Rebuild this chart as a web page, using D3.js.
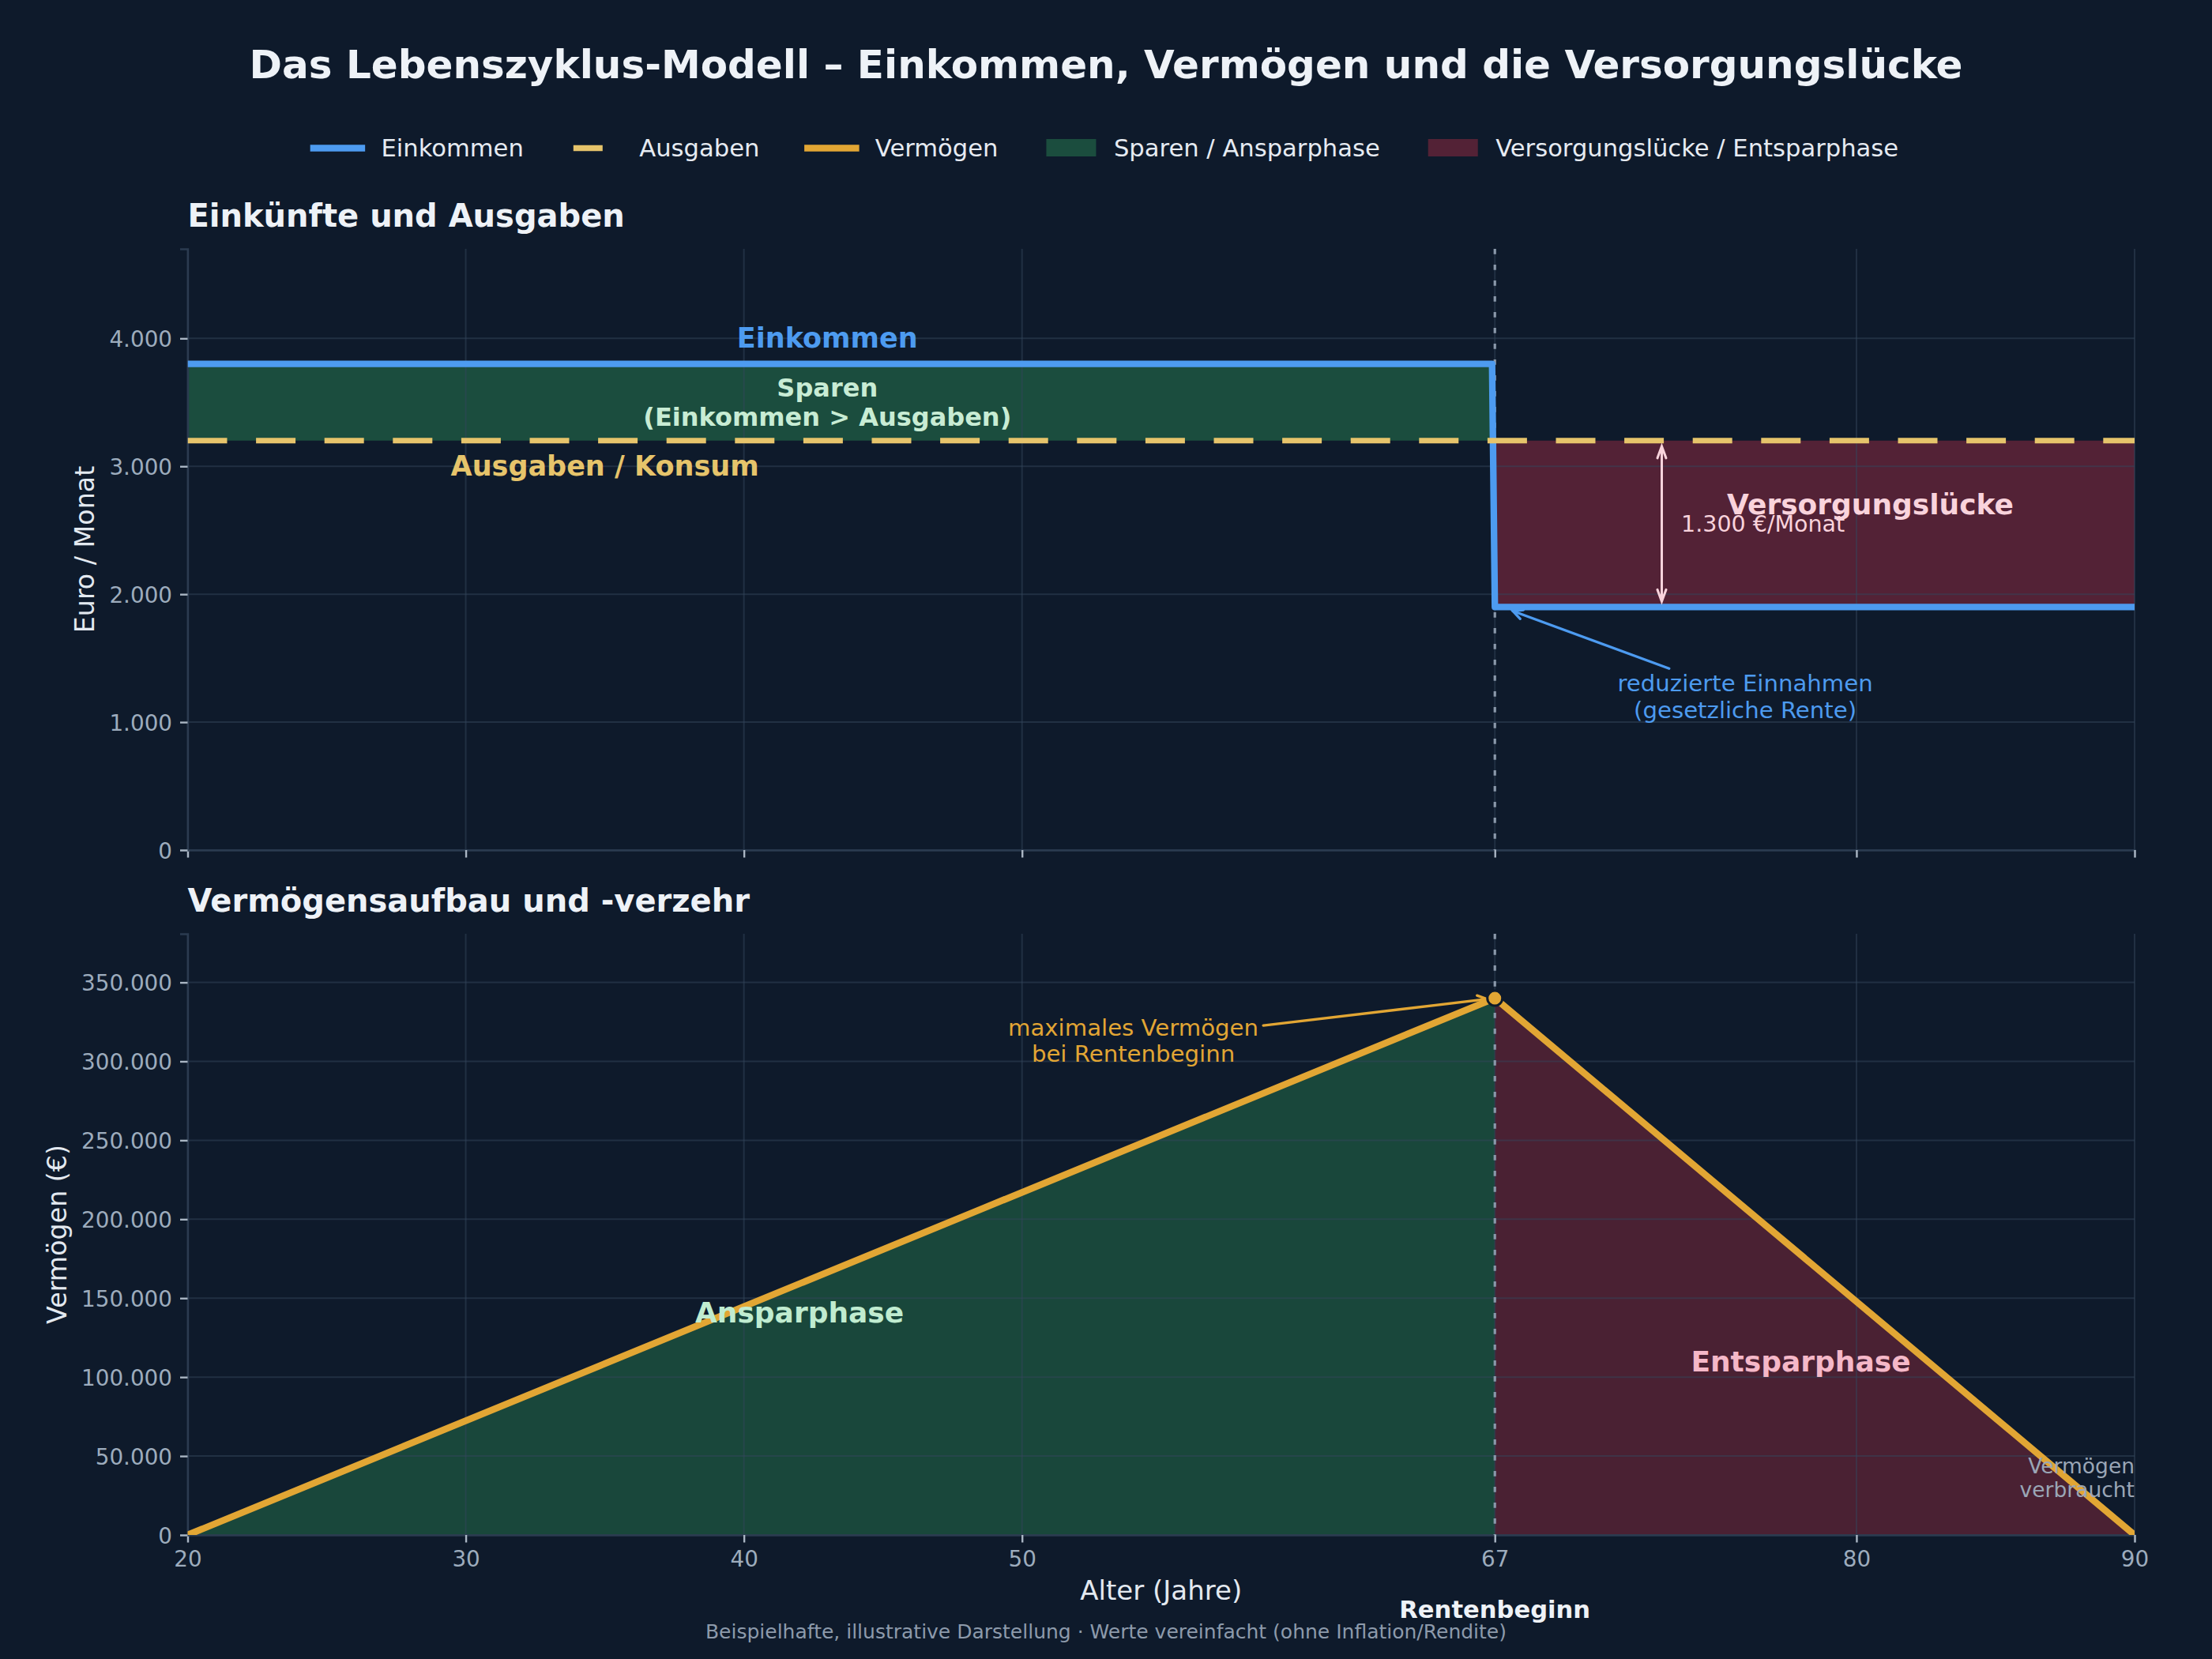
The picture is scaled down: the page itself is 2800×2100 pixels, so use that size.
<!DOCTYPE html>
<html>
<head>
<meta charset="utf-8">
<script src="https://cdn.jsdelivr.net/npm/d3@7"></script>
<style>
  body { margin: 0; background: #0e1a2b; }
  svg { display: block; font-family: "DejaVu Sans", sans-serif; }
</style>
</head>
<body>
<div id="chart"></div>
<script>
// --- data ---
const xTicks = [20, 30, 40, 50, 67, 80, 90];
const incomeAges = [20, 66.9, 67, 90];
const incomeValues = [3800, 3800, 1900, 1900];
const expenseAges = [20, 90];
const expenseValues = [3200, 3200];
const wealthAges = [20, 67, 90];
const wealthValues = [0, 340000, 0];
const incomeTicks = [0, 1000, 2000, 3000, 4000];
const wealthTicks = [0, 50000, 100000, 150000, 200000, 250000, 300000, 350000];
const retirementAge = 67;
const gapPerMonth = 1300;
const legendLabels = ["Einkommen", "Ausgaben", "Vermögen", "Sparen / Ansparphase", "Versorgungslücke / Entsparphase"];

const C = {
  bg: "#0e1a2b", income: "#4d9bf0", expense: "#e6c46b", wealth: "#e2a634",
  saveTop: "#1b4d3e", gapTop: "#532236", saveBot: "#19473b", gapBot: "#4a2133",
  text: "#eef2f7", tick: "#9dacbd", grid: "#33455c", spine: "#2b3b50", tickMark: "#aab6c4",
  pink: "#f9d3dc"
};

const W = 2800, H = 2100;
const svg = d3.select("#chart").append("svg").attr("width", W).attr("height", H);
svg.append("rect").attr("width", W).attr("height", H).attr("fill", C.bg);

const de = d3.formatLocale({ decimal: ",", thousands: ".", grouping: [3], currency: ["", " €"] });
const fmt = de.format(",");

const x = d3.scaleLinear().domain([20, 90]).range([237.5, 2702]);
const yTop = d3.scaleLinear().domain([0, 4700]).range([1076, 315]);
const yBot = d3.scaleLinear().domain([0, 380800]).range([1943, 1182]);

function label(g, lines, px, pyCenter, size, opts = {}) {
  const lh = size * (opts.lh || 1.15);
  const t = g.append("text")
    .attr("text-anchor", opts.anchor || "middle")
    .attr("font-size", size)
    .attr("font-weight", opts.weight || "normal")
    .attr("fill", opts.fill || C.text);
  const first = pyCenter - (lines.length - 1) * lh / 2 + 0.346 * size;
  lines.forEach((s, i) => t.append("tspan").attr("x", px).attr("y", first + i * lh).text(s));
  return t;
}

function head(g, x1, y1, x2, y2, color, len, half, lw) {
  const a = Math.atan2(y2 - y1, x2 - x1);
  const bx = x2 - len * Math.cos(a), by = y2 - len * Math.sin(a);
  const nx = -Math.sin(a) * half, ny = Math.cos(a) * half;
  g.append("path")
    .attr("d", `M${bx + nx},${by + ny}L${x2},${y2}L${bx - nx},${by - ny}`)
    .attr("fill", "none").attr("stroke", color).attr("stroke-width", lw)
    .attr("stroke-linejoin", "miter").attr("stroke-linecap", "round");
}

// arrow from a text box edge to a target point
function annotate(g, cx, cy, bw, bh, tx, ty, shrinkEnd, color, lw) {
  const dx = tx - cx, dy = ty - cy;
  const t = Math.min((bw / 2) / Math.abs(dx || 1e-9), (bh / 2) / Math.abs(dy || 1e-9));
  const len = Math.hypot(dx, dy);
  const sx = cx + dx * t + dx / len * 5.6, sy = cy + dy * t + dy / len * 5.6;
  const ex = tx - dx / len * shrinkEnd, ey = ty - dy / len * shrinkEnd;
  g.append("line").attr("x1", sx).attr("y1", sy).attr("x2", ex).attr("y2", ey)
    .attr("stroke", color).attr("stroke-width", lw).attr("stroke-linecap", "round");
  head(g, sx, sy, ex, ey, color, 12, 6, lw);
}

function panel(y, id) {
  const g = svg.append("g");
  const [y0, y1] = y.range();
  g.append("clipPath").attr("id", id).append("rect")
    .attr("x", x(20)).attr("y", y1).attr("width", x(90) - x(20)).attr("height", y0 - y1);
  return { g, y0, y1, clip: `url(#${id})` };
}

function drawFrame(p, y, yTicks, showXLabels) {
  const g = p.g;
  // grid
  g.append("g").selectAll("line").data(xTicks).join("line")
    .attr("x1", d => x(d)).attr("x2", d => x(d)).attr("y1", p.y1).attr("y2", p.y0)
    .attr("stroke", C.grid).attr("stroke-opacity", 0.5).attr("stroke-width", 2);
  g.append("g").selectAll("line").data(yTicks).join("line")
    .attr("x1", x(20)).attr("x2", x(90)).attr("y1", d => y(d)).attr("y2", d => y(d))
    .attr("stroke", C.grid).attr("stroke-opacity", 0.5).attr("stroke-width", 2);

  const xa = g.append("g").attr("transform", `translate(0,${p.y0})`)
    .call(d3.axisBottom(x).tickValues(xTicks).tickSize(9.5).tickPadding(10)
      .tickFormat(showXLabels ? d => d : () => ""));
  const ya = g.append("g").attr("transform", `translate(${x(20)},0)`)
    .call(d3.axisLeft(y).tickValues(yTicks).tickSize(9.5).tickPadding(10).tickFormat(fmt));
  [xa, ya].forEach(a => {
    a.select(".domain").attr("stroke", C.spine).attr("stroke-width", 2.4);
    a.selectAll(".tick line").attr("stroke", C.tickMark).attr("stroke-width", 2.4);
    a.selectAll(".tick text").attr("fill", C.tick).attr("font-size", 27.8)
      .attr("font-family", "DejaVu Sans");
  });
  xa.selectAll(".tick text").attr("dy", null).attr("y", 40);
  ya.selectAll(".tick text").attr("dy", "0.36em");
}

function retireLine(p) {
  p.g.append("line").attr("x1", x(retirementAge)).attr("x2", x(retirementAge))
    .attr("y1", p.y1).attr("y2", p.y0)
    .attr("stroke", "#8a98aa").attr("stroke-width", 3.2).attr("stroke-dasharray", "6.7,13.3");
}

// --- title, legend ---
svg.append("text").attr("x", 1400).attr("y", 99).attr("text-anchor", "middle")
  .attr("font-size", 50).attr("font-weight", "bold").attr("fill", C.text)
  .text("Das Lebenszyklus-Modell – Einkommen, Vermögen und die Versorgungslücke");

const legend = svg.append("g");
const legendKinds = [
  { type: "line", color: C.income },
  { type: "dash", color: C.expense },
  { type: "line", color: C.wealth },
  { type: "patch", color: C.saveTop },
  { type: "patch", color: C.gapTop }
];
const items = legendLabels.map((s, i) => {
  const t = legend.append("text").attr("y", 198).attr("font-size", 30.6).attr("fill", "#e6ebf2").text(s);
  return { t, w: t.node().getComputedTextLength(), k: legendKinds[i] };
});
const handleW = 61, textGap = 24.5, colGap = 61;
let total = d3.sum(items, d => handleW + textGap + d.w) + colGap * (items.length - 1);
let lx = 1400 - total / 2;
items.forEach(d => {
  if (d.k.type === "patch") {
    legend.append("rect").attr("x", lx).attr("y", 176).attr("width", handleW + 2).attr("height", 22).attr("fill", d.k.color);
  } else if (d.k.type === "line") {
    legend.append("line").attr("x1", lx).attr("x2", lx + handleW).attr("y1", 187.5).attr("y2", 187.5)
      .attr("stroke", d.k.color).attr("stroke-width", 8.5).attr("stroke-linecap", "square");
  } else {
    legend.append("line").attr("x1", lx + 2).attr("x2", lx + 39).attr("y1", 187.5).attr("y2", 187.5)
      .attr("stroke", d.k.color).attr("stroke-width", 7.5);
  }
  d.t.attr("x", lx + handleW + textGap);
  lx += handleW + textGap + d.w + colGap;
});

// --- top panel: income and expenses ---
const topPanel = panel(yTop, "clipTop");
svg.append("text").attr("x", 237.5).attr("y", 287).attr("font-size", 40).attr("font-weight", "bold")
  .attr("fill", C.text).text("Einkünfte und Ausgaben");

const incomePts = incomeAges.map((a, i) => ({ a, v: incomeValues[i], e: expenseValues[0] }));
const saveArea = d3.area().x(d => x(d.a)).y0(d => yTop(d.e)).y1(d => yTop(d.v));
topPanel.g.append("path").datum(incomePts.filter(d => d.v > d.e)).attr("d", saveArea).attr("fill", C.saveTop);
topPanel.g.append("path").datum(incomePts.filter(d => d.v < d.e)).attr("d", saveArea).attr("fill", C.gapTop);

drawFrame(topPanel, yTop, incomeTicks, false);
retireLine(topPanel);

const lineTop = d3.line().x(d => x(d[0])).y(d => yTop(d[1]));
topPanel.g.append("path").datum(incomeAges.map((a, i) => [a, incomeValues[i]]))
  .attr("d", lineTop).attr("fill", "none").attr("stroke", C.income).attr("stroke-width", 8.3)
  .attr("stroke-linejoin", "round").attr("clip-path", topPanel.clip);
topPanel.g.append("path").datum(expenseAges.map((a, i) => [a, expenseValues[i]]))
  .attr("d", lineTop).attr("fill", "none").attr("stroke", C.expense).attr("stroke-width", 7)
  .attr("stroke-dasharray", "50,36.6").attr("clip-path", topPanel.clip);

label(topPanel.g, ["Einkommen"], x(43), yTop(4000), 35, { weight: "bold", fill: C.income });
label(topPanel.g, ["Sparen", "(Einkommen > Ausgaben)"], x(43), yTop(3500), 32, { weight: "bold", fill: "#c8ecd4" });
label(topPanel.g, ["Ausgaben / Konsum"], x(35), yTop(3000), 35, { weight: "bold", fill: C.expense });

// gap arrow
const gx = x(73), gy1 = yTop(expenseValues[0]) + 7, gy2 = yTop(incomeValues[3]) - 7;
topPanel.g.append("line").attr("x1", gx).attr("x2", gx).attr("y1", gy1).attr("y2", gy2)
  .attr("stroke", C.pink).attr("stroke-width", 3);
head(topPanel.g, gx, gy2, gx, gy1, C.pink, 15, 5.5, 3);
head(topPanel.g, gx, gy1, gx, gy2, C.pink, 15, 5.5, 3);
label(topPanel.g, [fmt(gapPerMonth) + " €/Monat"], x(73.7), yTop(2550), 28.5, { anchor: "start", fill: C.pink });
label(topPanel.g, ["Versorgungslücke"], x(80.5), yTop(2700), 36, { weight: "bold", fill: C.pink });

label(topPanel.g, ["reduzierte Einnahmen", "(gesetzliche Rente)"], x(76), yTop(1200), 29.2, { fill: C.income });
annotate(topPanel.g, x(76), yTop(1200), 321, 67, x(67.5), yTop(1880), 5.6, C.income, 3.3);

svg.append("text").attr("transform", `translate(107,${(yTop.range()[0] + yTop.range()[1]) / 2}) rotate(-90)`)
  .attr("text-anchor", "middle").attr("dominant-baseline", "central")
  .attr("font-size", 33.3).attr("fill", "#e3e9f0").text("Euro / Monat");

// --- bottom panel: wealth ---
const botPanel = panel(yBot, "clipBot");
svg.append("text").attr("x", 237.5).attr("y", 1154).attr("font-size", 40).attr("font-weight", "bold")
  .attr("fill", C.text).text("Vermögensaufbau und -verzehr");

const wealthPts = wealthAges.map((a, i) => [a, wealthValues[i]]);
const wArea = d3.area().x(d => x(d[0])).y0(yBot(0)).y1(d => yBot(d[1]));
botPanel.g.append("path").datum(wealthPts.filter(d => d[0] <= retirementAge)).attr("d", wArea).attr("fill", C.saveBot);
botPanel.g.append("path").datum(wealthPts.filter(d => d[0] >= retirementAge)).attr("d", wArea).attr("fill", C.gapBot);

drawFrame(botPanel, yBot, wealthTicks, true);
retireLine(botPanel);

botPanel.g.append("path").datum(wealthPts)
  .attr("d", d3.line().x(d => x(d[0])).y(d => yBot(d[1])))
  .attr("fill", "none").attr("stroke", C.wealth).attr("stroke-width", 8.5)
  .attr("stroke-linejoin", "round").attr("clip-path", botPanel.clip);

const peak = wealthPts[1];
label(botPanel.g, ["maximales Vermögen", "bei Rentenbeginn"], x(54), yBot(313000), 29.2, { fill: C.wealth });
annotate(botPanel.g, x(54), yBot(313000), 318, 67, x(peak[0]), yBot(peak[1]), 10, C.wealth, 3.3);
botPanel.g.append("circle").attr("cx", x(peak[0])).attr("cy", yBot(peak[1])).attr("r", 9.5)
  .attr("fill", C.wealth).attr("stroke", C.bg).attr("stroke-width", 3);

label(botPanel.g, ["Ansparphase"], x(42), yBot(141000), 36, { weight: "bold", fill: "#c0ecd0" });
label(botPanel.g, ["Entsparphase"], x(78), yBot(110000), 36, { weight: "bold", fill: "#f5b8c8" });
label(botPanel.g, ["Vermögen", "verbraucht"], x(90), yBot(36000), 26.5, { anchor: "end", fill: "#9aa6b6", lh: 1.12 });

svg.append("text").attr("transform", `translate(72,${(yBot.range()[0] + yBot.range()[1]) / 2}) rotate(-90)`)
  .attr("text-anchor", "middle").attr("dominant-baseline", "central")
  .attr("font-size", 33.3).attr("fill", "#e3e9f0").text("Vermögen (€)");

svg.append("text").attr("x", (x(20) + x(90)) / 2).attr("y", 2025).attr("text-anchor", "middle")
  .attr("font-size", 34).attr("fill", "#e3e9f0").text("Alter (Jahre)");
svg.append("text").attr("x", x(retirementAge)).attr("y", 2048).attr("text-anchor", "middle")
  .attr("font-size", 30.6).attr("font-weight", "bold").attr("fill", C.text).text("Rentenbeginn");
svg.append("text").attr("x", 1400).attr("y", 2074).attr("text-anchor", "middle")
  .attr("font-size", 25).attr("fill", "#8d9aab")
  .text("Beispielhafte, illustrative Darstellung · Werte vereinfacht (ohne Inflation/Rendite)");
</script>
</body>
</html>
